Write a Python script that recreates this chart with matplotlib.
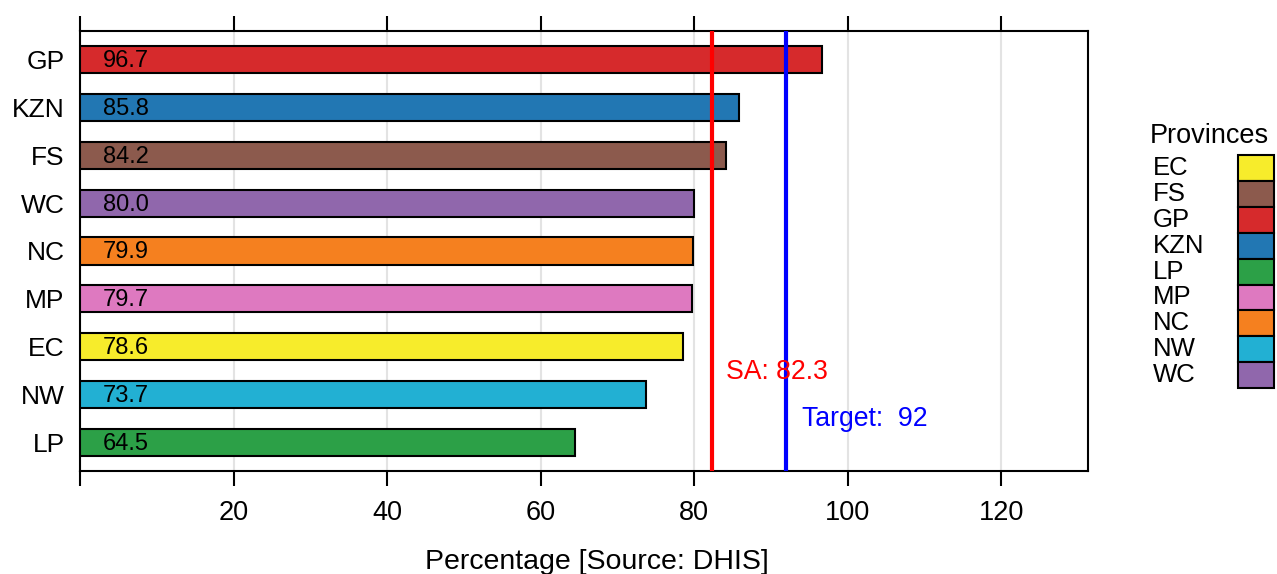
# province bar chart with SA average and target lines
import matplotlib
matplotlib.use("Agg")
import matplotlib.pyplot as plt
from matplotlib.patches import Rectangle

plt.rcParams['font.family'] = ['Liberation Sans', 'DejaVu Sans']

# data, bottom to top
provinces = ["LP", "NW", "EC", "MP", "NC", "WC", "FS", "KZN", "GP"]
values = [64.5, 73.7, 78.6, 79.7, 79.9, 80.0, 84.2, 85.8, 96.7]
sa_value = 82.3
target_value = 92

colors = {
    "EC": "#F7EC2B", "FS": "#8C5A4D", "GP": "#D62A2C", "KZN": "#2277B3",
    "LP": "#2CA047", "MP": "#DE79C0", "NC": "#F5801F", "NW": "#22B0D3",
    "WC": "#9067AC",
}
legend_order = sorted(colors.keys())

x_ticks = [0, 20, 40, 60, 80, 100, 120]
x_tick_labels = ["", "20", "40", "60", "80", "100", "120"]

W, H = 1277, 574
fig = plt.figure(figsize=(W / 100, H / 100), dpi=100)
ax = fig.add_axes([80 / W, 1 - 471 / H, (1088 - 80) / W, (471 - 31) / H])

ypos = list(range(len(provinces)))
ax.barh(ypos, values, height=0.57, color=[colors[p] for p in provinces],
        edgecolor="black", linewidth=1.5, zorder=3)
for y, v in zip(ypos, values):
    ax.text(3, y - 0.03, f"{v:.1f}", ha="left", va="center", fontsize=17,
            zorder=4)

ax.axvline(sa_value, color="red", lw=3, zorder=5)
ax.axvline(target_value, color="blue", lw=3, zorder=5)
ax.text(sa_value + 1.8, 1.47, f"SA: {sa_value}", color="red", fontsize=19.2,
        va="center", ha="left", zorder=6)
ax.text(target_value + 2.0, 0.49, f"Target:  {target_value}", color="blue",
        fontsize=19.2, va="center", ha="left", zorder=6)

ax.set_xlim(0, 131.3)
ax.set_ylim(-0.6, len(provinces) - 0.4)
ax.set_xticks(x_ticks)
ax.set_xticklabels(x_tick_labels, fontsize=19.5)
ax.set_yticks(ypos)
ax.set_yticklabels(provinces, fontsize=19)
ax.tick_params(axis="x", which="both", direction="out", length=11, width=1.5,
               top=True, bottom=True, labeltop=False, pad=10)
ax.tick_params(axis="y", length=0, pad=11)
ax.grid(axis="x", color="#E3E3E3", lw=1.5, zorder=0)
for s in ax.spines.values():
    s.set_linewidth(1.5)

fig.text(597 / W, 1 - 562 / H, "Percentage [Source: DHIS]", fontsize=20.5,
         ha="center", va="center")

# legend drawn by hand in pixel coordinates
lax = fig.add_axes([0, 0, 1, 1])
lax.set_xlim(0, W)
lax.set_ylim(H, 0)
lax.axis("off")
lax.text(1150, 136, "Provinces", fontsize=19.5, ha="left", va="center")
row_h = 25.9
top = 155
for i, name in enumerate(legend_order):
    y0 = top + i * row_h
    lax.add_patch(Rectangle((1238, y0), 36, row_h, facecolor=colors[name],
                            edgecolor="black", lw=1.5))
    lax.text(1153, y0 + row_h / 2, name, fontsize=18.5, ha="left", va="center")

fig.savefig("out.png", dpi=100)
